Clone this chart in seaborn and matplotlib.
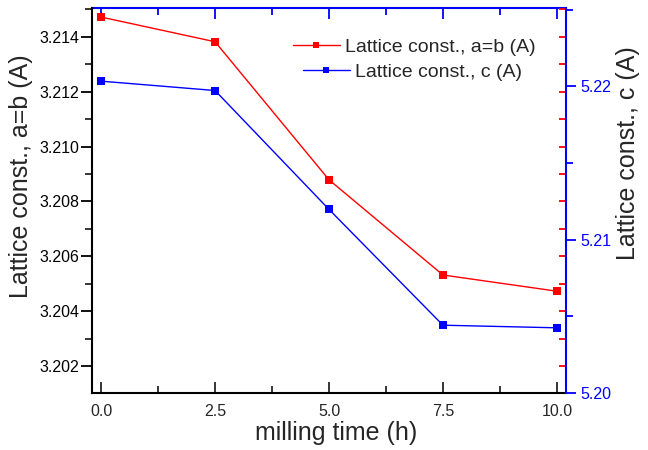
import matplotlib
matplotlib.use("Agg")
import matplotlib.pyplot as plt
import seaborn as sns
import pandas as pd
import numpy as np
from matplotlib.ticker import MultipleLocator, FormatStrFormatter
from matplotlib.lines import Line2D

milling_time = [0.0, 2.5, 5.0, 7.5, 10.0]
lattice_ab = [3.21472, 3.21382, 3.20879, 3.20532, 3.20473]
lattice_c = [5.22033, 5.21972, 5.21197, 5.20442, 5.20425]

label_ab = "Lattice const., a=b (A)"
label_c = "Lattice const., c (A)"
xlabel = "milling time (h)"

sns.set_style("ticks")
plt.rcParams["font.family"] = ["Liberation Sans", "DejaVu Sans"]

df_ab = pd.DataFrame({"t": milling_time, "v": lattice_ab})
df_c = pd.DataFrame({"t": milling_time, "v": lattice_c})

fig = plt.figure(figsize=(6.48, 4.5), dpi=100)
ax = fig.add_axes([92/648, 1-393/450, (566-92)/648, (393-8)/450])
ax2 = ax.twinx()

sns.lineplot(data=df_ab, x="t", y="v", ax=ax, color="#ff0000", marker="s",
             markersize=5.2, markeredgewidth=0, linewidth=1.0)
sns.lineplot(data=df_c, x="t", y="v", ax=ax2, color="#0000ff", marker="s",
             markersize=5.2, markeredgewidth=0, linewidth=1.0)

ax.set_xlim(-0.2, 10.2)
ax.set_ylim(3.20102, 3.21505)
ax2.set_ylim(5.20, 5.2251)

# left axis
ax.yaxis.set_major_locator(MultipleLocator(0.002))
ax.yaxis.set_minor_locator(MultipleLocator(0.001))
ax.yaxis.set_major_formatter(FormatStrFormatter("%.3f"))
ax.tick_params(axis="y", which="major", direction="out", length=8, width=1.3,
               labelsize=11.5, pad=1, colors="black", left=True, right=False)
ax.tick_params(axis="y", which="minor", direction="out", length=5, width=1.3,
               left=True, right=False)

# bottom axis
ax.xaxis.set_major_locator(MultipleLocator(2.5))
ax.xaxis.set_minor_locator(MultipleLocator(1.25))
ax.xaxis.set_major_formatter(FormatStrFormatter("%.1f"))
ax.tick_params(axis="x", which="major", direction="in", length=8, width=1.3,
               labelsize=11.5, pad=8, bottom=True, top=False)
ax.tick_params(axis="x", which="minor", direction="in", length=5, width=1.3,
               bottom=True, top=False)

# top axis (blue)
sec_top = ax.secondary_xaxis("top")
sec_top.xaxis.set_major_locator(MultipleLocator(2.5))
sec_top.xaxis.set_minor_locator(MultipleLocator(1.25))
sec_top.tick_params(axis="x", which="major", direction="in", length=8, width=1.3,
                    color="#0000ff", labeltop=False)
sec_top.tick_params(axis="x", which="minor", direction="in", length=5, width=1.3,
                    color="#0000ff", labeltop=False)
sec_top.spines["top"].set_color("#0000ff")
sec_top.spines["top"].set_linewidth(1.5)

# red mirrored ticks on the right
sec_right = ax.secondary_yaxis("right")
sec_right.yaxis.set_major_locator(MultipleLocator(0.002))
sec_right.yaxis.set_minor_locator(MultipleLocator(0.001))
sec_right.tick_params(axis="y", which="both", direction="in", length=5, width=1.3,
                      color="#ff0000", labelright=False)
sec_right.spines["right"].set_visible(False)

# right axis (blue)
ax2.yaxis.set_major_locator(MultipleLocator(0.01))
ax2.yaxis.set_minor_locator(MultipleLocator(0.005))
ax2.yaxis.set_major_formatter(FormatStrFormatter("%.2f"))
ax2.tick_params(axis="y", which="major", direction="out", length=7, width=1.3,
                color="#0000ff", labelcolor="#0000ff", labelsize=11.5, pad=3)
ax2.tick_params(axis="y", which="minor", direction="out", length=5, width=1.3,
                color="#0000ff")

for sp in ["left", "bottom"]:
    ax.spines[sp].set_linewidth(1.5)
    ax.spines[sp].set_color("black")
ax.spines["top"].set_visible(False)
ax.spines["right"].set_visible(False)
ax2.spines["right"].set_color("#0000ff")
ax2.spines["right"].set_linewidth(1.5)
ax2.spines["left"].set_visible(False)
ax2.spines["top"].set_visible(False)
ax2.spines["bottom"].set_visible(False)

ax.set_xlabel(xlabel, fontsize=18, labelpad=0)
ax.set_ylabel(label_ab, fontsize=18)
ax2.set_ylabel(label_c, fontsize=18)
ax.xaxis.set_label_coords((336-92)/474, -(421-393)/385)
ax.yaxis.set_label_coords((33-92)/474, (393-176)/385)
ax2.yaxis.set_label_coords((616-92)/474, (393-153)/385)

# legend rows (offset like the reference)
h_ab = Line2D([], [], color="#ff0000", marker="s", markersize=4.5, markeredgewidth=0, linewidth=1.0)
h_c = Line2D([], [], color="#0000ff", marker="s", markersize=4.5, markeredgewidth=0, linewidth=1.0)
fig.legend([h_ab], [label_ab], loc="center left", bbox_to_anchor=(293/648, 1-47/450),
           frameon=False, fontsize=14, handlelength=2.4, handletextpad=0.25,
           borderpad=0, borderaxespad=0)
fig.legend([h_c], [label_c], loc="center left", bbox_to_anchor=(303/648, 1-72/450),
           frameon=False, fontsize=14, handlelength=2.4, handletextpad=0.25,
           borderpad=0, borderaxespad=0)

fig.savefig("out.png", dpi=100)
